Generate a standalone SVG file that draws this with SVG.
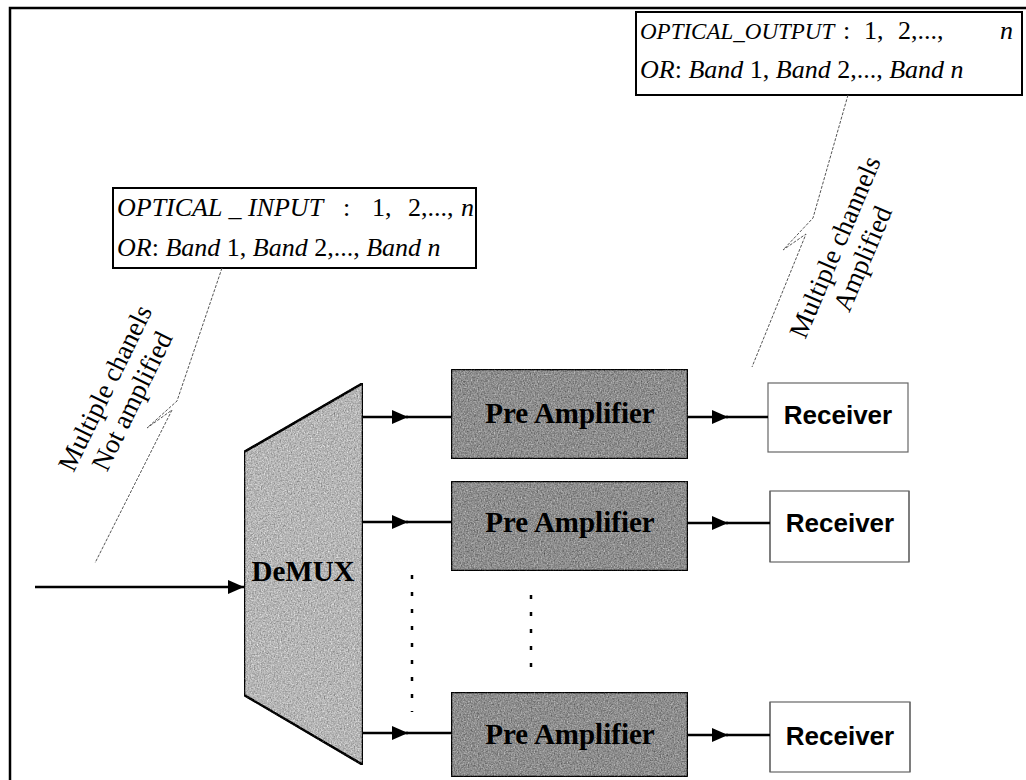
<svg xmlns="http://www.w3.org/2000/svg" width="1026" height="780" viewBox="0 0 1026 780">
  <style>
    .frame { stroke: #000; stroke-width: 2.5; fill: none; }
    .box { fill: #fff; stroke: #000; stroke-width: 2; }
    .math { font-family: "Liberation Serif", "Times New Roman", serif; font-size: 26px; fill: #000; }
    .it { font-style: italic; }
    .note { font-family: "Liberation Serif", "Times New Roman", serif; font-size: 27px; fill: #000; text-anchor: middle; }
    .leader { stroke: #555; stroke-width: 1; stroke-dasharray: 3 1.5; fill: none; }
    .demux { fill: #b6b6b6; stroke: #000; stroke-width: 2.5; filter: url(#grain); }
    .amp { fill: #8e8e8e; stroke: #000; stroke-width: 2.5; filter: url(#grain); }
    .amp-label { font-family: "Liberation Serif", "Times New Roman", serif; font-weight: bold; font-size: 29px; fill: #000; text-anchor: middle; }
    .rx { fill: #fff; stroke: #666; stroke-width: 1.2; }
    .rx-side { stroke: #666; stroke-width: 1.2; fill: none; }
    .rx-label { font-family: "Liberation Sans", Arial, sans-serif; font-weight: bold; font-size: 26px; fill: #000; text-anchor: middle; }
    .wire { stroke: #000; stroke-width: 2.5; fill: none; }
    .dots { stroke: #000; stroke-width: 2.5; stroke-dasharray: 4 13; fill: none; }
  </style>
  <defs>
    <marker id="head" viewBox="0 0 16 14" refX="16" refY="7" markerWidth="16" markerHeight="14" markerUnits="userSpaceOnUse" orient="auto">
      <path d="M0 0 L16 7 L0 14 Z" fill="#000"/>
    </marker>
    <!-- grainy print texture for the shaded blocks -->
    <filter id="grain" x="0" y="0" width="100%" height="100%" color-interpolation-filters="sRGB">
      <feTurbulence type="fractalNoise" baseFrequency="0.7" numOctaves="2" seed="5" result="noise"/>
      <feColorMatrix in="noise" type="matrix" values="0.33 0.33 0.33 0 0  0.33 0.33 0.33 0 0  0.33 0.33 0.33 0 0  0 0 0 0 1" result="gray"/>
      <feComposite in="SourceGraphic" in2="gray" operator="arithmetic" k1="0" k2="1" k3="0.9" k4="-0.45" result="mix"/>
      <feComposite in="mix" in2="SourceAlpha" operator="in"/>
    </filter>
  </defs>

  <!-- outer frame -->
  <path class="frame" d="M10 780 V8 H1026"/>

  <!-- output annotation -->
  <g id="output-label">
    <rect class="box" x="636" y="12" width="386" height="83"/>
    <text class="math" y="39"><tspan class="it" x="640" font-size="23">OPTICAL_OUTPUT</tspan><tspan x="843">:</tspan><tspan x="864">1,</tspan><tspan x="898">2,...,</tspan><tspan class="it" x="1000">n</tspan></text>
    <text class="math" y="78"><tspan class="it" x="640">OR</tspan><tspan>: </tspan><tspan class="it">Band </tspan><tspan>1, </tspan><tspan class="it">Band </tspan><tspan>2,..., </tspan><tspan class="it">Band n</tspan></text>
  </g>

  <!-- input annotation -->
  <g id="input-label">
    <rect class="box" x="113" y="188" width="363" height="80"/>
    <text class="math" y="216"><tspan class="it" x="117">OPTICAL _ INPUT</tspan><tspan x="343">:</tspan><tspan x="372">1,</tspan><tspan x="408">2,...,</tspan><tspan class="it" x="461">n</tspan></text>
    <text class="math" y="256"><tspan class="it" x="117">OR</tspan><tspan>: </tspan><tspan class="it">Band </tspan><tspan>1, </tspan><tspan class="it">Band </tspan><tspan>2,..., </tspan><tspan class="it">Band n</tspan></text>
  </g>

  <!-- rotated notes with leader lines -->
  <g id="note-in">
    <path class="leader" d="M222 268 L177 401 L147 428 L172 410 L95 563"/>
    <g transform="translate(105 388) rotate(-64)">
      <text class="note" x="0" y="9">Multiple chanels</text>
      <text class="note" x="0" y="39">Not amplified</text>
    </g>
  </g>
  <g id="note-out">
    <path class="leader" d="M848 95 L813 218 L783 250 L806 234 L752 367"/>
    <g transform="translate(835 247) rotate(-67)">
      <text class="note" x="0" y="9">Multiple channels</text>
      <text class="note" x="0" y="39">Amplified</text>
    </g>
  </g>

  <!-- demultiplexer -->
  <g id="demux">
    <path class="demux" d="M244 452 L363 383 L363 765 L244 695 Z"/>
    <text class="amp-label" x="303" y="581" font-size="25">DeMUX</text>
  </g>

  <!-- pre amplifiers -->
  <g id="amp1">
    <rect class="amp" x="451" y="369" width="237" height="90"/>
    <text class="amp-label" x="570" y="423">Pre Amplifier</text>
  </g>
  <g id="amp2">
    <rect class="amp" x="451" y="481" width="237" height="90"/>
    <text class="amp-label" x="570" y="532">Pre Amplifier</text>
  </g>
  <g id="amp3">
    <rect class="amp" x="451" y="692" width="237" height="85"/>
    <text class="amp-label" x="570" y="744">Pre Amplifier</text>
  </g>

  <!-- receivers -->
  <g id="rx1">
    <rect class="rx" x="768" y="383" width="140" height="69"/>
    <text class="rx-label" x="838" y="424">Receiver</text>
  </g>
  <g id="rx2">
    <rect class="rx" x="770" y="491" width="139" height="71" stroke="#ddd"/>
    <path class="rx-side" d="M770 491 V562 M909 491 V562"/>
    <text class="rx-label" x="840" y="532">Receiver</text>
  </g>
  <g id="rx3">
    <rect class="rx" x="770" y="702" width="140" height="70" stroke="#ccc"/>
    <path class="rx-side" d="M770 702 V772 M910 702 V772"/>
    <text class="rx-label" x="840" y="745">Receiver</text>
  </g>

  <!-- connectors -->
  <g id="connectors">
    <path class="wire" d="M35 587 H244" marker-end="url(#head)"/>

    <path class="wire" d="M363 417 H408" marker-end="url(#head)"/>
    <path class="wire" d="M406 417 H451"/>
    <path class="wire" d="M363 522 H408" marker-end="url(#head)"/>
    <path class="wire" d="M406 522 H451"/>
    <path class="wire" d="M363 733 H408" marker-end="url(#head)"/>
    <path class="wire" d="M406 733 H451"/>

    <path class="wire" d="M688 417 H728" marker-end="url(#head)"/>
    <path class="wire" d="M726 417 H768"/>
    <path class="wire" d="M688 523 H728" marker-end="url(#head)"/>
    <path class="wire" d="M726 523 H770"/>
    <path class="wire" d="M688 735 H728" marker-end="url(#head)"/>
    <path class="wire" d="M726 735 H770"/>

    <path class="dots" d="M412 575 V712"/>
    <path class="dots" d="M531 595 V672"/>
  </g>
</svg>
